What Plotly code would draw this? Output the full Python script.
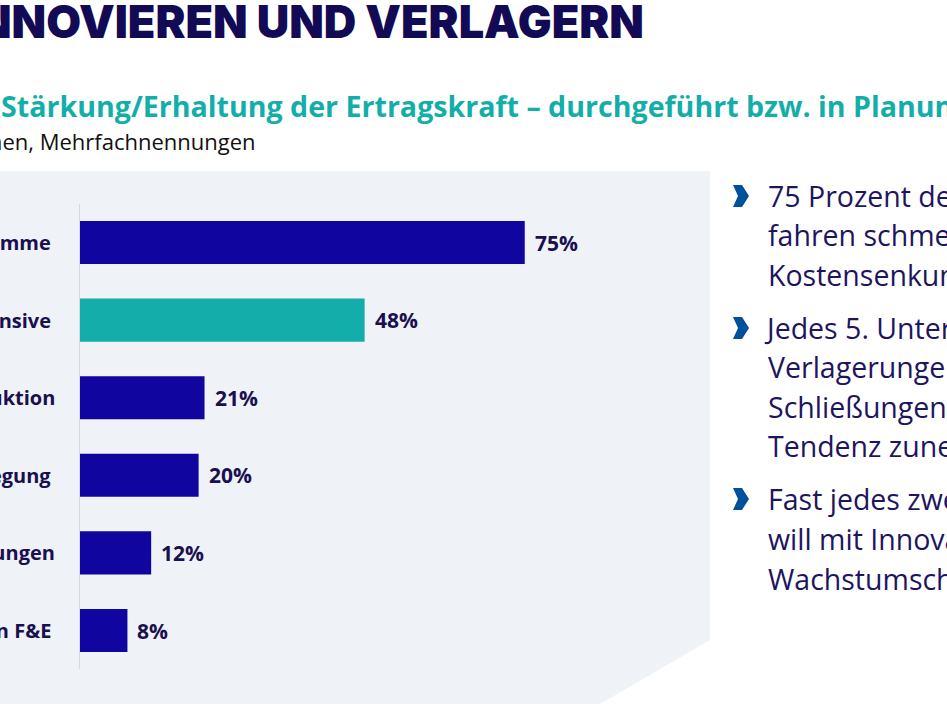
import plotly.graph_objects as go

W, H = 947, 710

categories = [
    "Kostensenkungsprogramme",
    "Innovationsoffensive",
    "Verlagerung der Produktion",
    "Standortschließung/-zusammenlegung",
    "Standortschließungen",
    "Verlagerung von F&E",
]
values = [75, 48, 21, 20, 12, 8]
value_labels = ["75%", "48%", "21%", "20%", "12%", "8%"]
bar_colors = ["#10069f", "#13aeaa", "#10069f", "#10069f", "#10069f", "#10069f"]
label_right_px = [53, 53, 57, 53, 57, 53]

title_text = "KOSTEN SENKEN, INNOVIEREN UND VERLAGERN"
subtitle_text = "Stärkung/Erhaltung der Ertragskraft – durchgeführt bzw. in Planung"
note_text = "In Prozent der Unternehmen, Mehrfachnennungen"

bullets = [
    ["75 Prozent der Unternehmen", "fahren schmerzhafte", "Kostensenkungsprogramme"],
    ["Jedes 5. Unternehmen plant", "Verlagerungen und", "Schließungen – mit", "Tendenz zunehmend"],
    ["Fast jedes zweite Unternehmen", "will mit Innovationen neue", "Wachstumschancen nutzen"],
]
bullet_baselines = [[206, 245, 285], [338, 377, 417, 456], [509, 549, 589]]

NAVY = "#1a1050"
TXT = "#1d1560"
BASE = "Open Sans, Noto Sans, sans-serif"


def px(x):
    return x / W


def py(y):
    return 1 - y / H


fig = go.Figure()
fig.add_trace(go.Bar(
    x=values, y=categories, orientation="h",
    marker=dict(color=bar_colors, line=dict(width=0)),
    width=0.555, hoverinfo="skip",
))

ann = []
# value labels
for c, v, t in zip(categories, values, value_labels):
    ann.append(dict(x=v, y=c, xref="x", yref="y", text=t, showarrow=False,
                    xanchor="left", yanchor="middle", xshift=8,
                    font=dict(family=BASE, size=21, color=NAVY, weight="bold")))
# category labels (partly cut by the left edge of the slide crop)
for c, r in zip(categories, label_right_px):
    ann.append(dict(x=px(r), y=c, xref="paper", yref="y", text=c, showarrow=False,
                    xanchor="right", yanchor="middle",
                    font=dict(family=BASE, size=20, color=NAVY, weight="bold")))
# title
ann.append(dict(x=px(646), y=py(22), xref="paper", yref="paper", text=title_text,
                showarrow=False, xanchor="right", yanchor="middle",
                font=dict(family="Inter, Lato, sans-serif", size=45, color="#120a55", weight=900)))
ann.append(dict(x=px(-1), y=py(105), xref="paper", yref="paper", text=subtitle_text,
                showarrow=False, xanchor="left", yanchor="middle",
                font=dict(family=BASE, size=28.6, color="#13aeaa", weight="bold")))
ann.append(dict(x=px(258), y=py(141), xref="paper", yref="paper", text=note_text,
                showarrow=False, xanchor="right", yanchor="middle",
                font=dict(family=BASE, size=22, color="#111111")))
# right-side bullet text
for para, bls in zip(bullets, bullet_baselines):
    for line, b in zip(para, bls):
        ann.append(dict(x=px(766), y=py(b - 10), xref="paper", yref="paper", text=line,
                        showarrow=False, xanchor="left", yanchor="middle",
                        xshift=-4 if line.startswith("J") else 0,
                        font=dict(family=BASE, size=28.5, color=TXT)))

shapes = [dict(type="path", xref="paper", yref="paper", layer="below",
               path="M {},{} L {},{} L {},{} L {},{} L {},{} Z".format(
                   px(0), py(171), px(710), py(171), px(710), py(640),
                   px(600), py(704), px(0), py(704)),
               fillcolor="#eff2f7", line=dict(width=0))]
for bls in bullet_baselines:
    c = bls[0] - 10
    shapes.append(dict(type="path", xref="paper", yref="paper",
                       path="M {},{} L {},{} L {},{} L {},{} L {},{} L {},{} Z".format(
                           px(733), py(c - 11), px(742), py(c - 11), px(749), py(c),
                           px(742), py(c + 11), px(733), py(c + 11), px(738), py(c)),
                       fillcolor="#00509b", line=dict(width=0)))

fig.update_layout(
    width=W, height=H,
    margin=dict(l=0, r=0, t=0, b=0),
    paper_bgcolor="white", plot_bgcolor="rgba(0,0,0,0)",
    showlegend=False,
    annotations=ann, shapes=shapes,
    xaxis=dict(domain=[px(80), px(80 + 593)], range=[0, 100], visible=False, fixedrange=True),
    yaxis=dict(domain=[py(669.3), py(203.7)], range=[5.5, -0.5], showticklabels=False,
               showgrid=False, zeroline=False, showline=True, linecolor="#d5d9df",
               linewidth=1, ticks="", fixedrange=True),
)

fig.write_html("out.html")
